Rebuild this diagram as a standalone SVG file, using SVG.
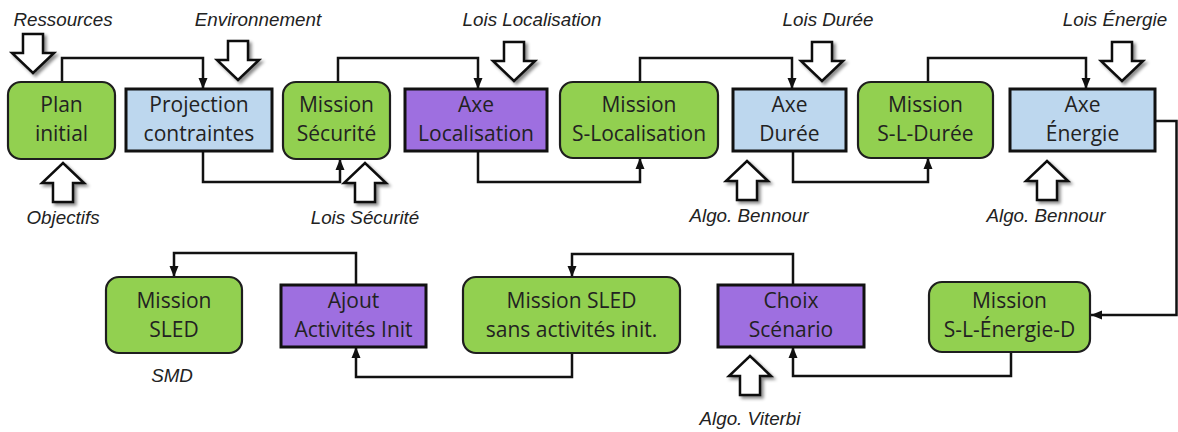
<svg xmlns="http://www.w3.org/2000/svg" xmlns:xlink="http://www.w3.org/1999/xlink" width="1178" height="432" viewBox="0 0 1178 432">
  <style>
    .g { fill: #92D050; stroke: #1e1e1e; stroke-width: 2.2; }
    .b { fill: #BDD7EE; stroke: #111; stroke-width: 3; }
    .p { fill: #9E6FE0; stroke: #111; stroke-width: 3; }
    .t { font-family: "Open Sans", "Noto Sans", sans-serif; font-size: 21px; fill: #222; text-anchor: middle; }
    .l { font-family: "Liberation Sans", Arial, sans-serif; font-style: italic; font-size: 18.8px; fill: #222; text-anchor: middle; }
    .c { fill: none; stroke: #111; stroke-width: 2.5; marker-end: url(#ah); }
    .ba { fill: #fff; stroke: #111; stroke-width: 2.5; stroke-linejoin: miter; filter: url(#sh); }
  </style>
  <defs>
    <marker id="ah" markerUnits="userSpaceOnUse" markerWidth="12" markerHeight="12" viewBox="0 0 12 12" refX="11" refY="6" orient="auto">
      <path d="M0 1.5 L11 6 L0 10.5 Z" fill="#111"/>
    </marker>
    <filter id="sh" x="-30%" y="-30%" width="170%" height="170%">
      <feDropShadow dx="2.5" dy="2.5" stdDeviation="1.8" flood-color="#000" flood-opacity="0.45"/>
    </filter>
    <path id="dn" d="M-10 -39 H10 V-20 H21 L0 0 L-21 -20 H-10 Z"/>
    <path id="up" d="M-10 39 H10 V20 H21 L0 0 L-21 20 H-10 Z"/>
  </defs>

  <g id="connectors">
    <path class="c" d="M62 82 V58 H203 V89"/>
    <path class="c" d="M203 151 V182 H340 V159"/>
    <path class="c" d="M338 82 V58 H478 V89"/>
    <path class="c" d="M478 151 V182 H640 V158"/>
    <path class="c" d="M640 82 V58 H792 V89"/>
    <path class="c" d="M793 151 V182 H928 V158"/>
    <path class="c" d="M928 82 V58 H1086 V89"/>
    <path class="c" d="M1155 121 H1176.5 V315 H1091"/>
    <path class="c" d="M1011 352 V376 H793 V347"/>
    <path class="c" d="M793 285 V254 H572 V277"/>
    <path class="c" d="M572 353 V377 H356 V347"/>
    <path class="c" d="M356 285 V253 H174 V277"/>
  </g>

  <g id="inputs">
    <use xlink:href="#dn" href="#dn" class="ba" x="33" y="73"/>
    <use xlink:href="#dn" href="#dn" class="ba" x="238" y="80"/>
    <use xlink:href="#dn" href="#dn" class="ba" x="514" y="81"/>
    <use xlink:href="#dn" href="#dn" class="ba" x="822" y="81"/>
    <use xlink:href="#dn" href="#dn" class="ba" x="1122" y="81"/>
    <use xlink:href="#up" href="#up" class="ba" x="63" y="163"/>
    <use xlink:href="#up" href="#up" class="ba" x="365" y="163"/>
    <use xlink:href="#up" href="#up" class="ba" x="747" y="161"/>
    <use xlink:href="#up" href="#up" class="ba" x="1047" y="161"/>
    <use xlink:href="#up" href="#up" class="ba" x="750" y="356"/>
  </g>

  <g id="labels">
    <text class="l" x="63" y="26">Ressources</text>
    <text class="l" x="258" y="26">Environnement</text>
    <text class="l" x="532" y="26">Lois Localisation</text>
    <text class="l" x="828" y="26">Lois Durée</text>
    <text class="l" x="1115" y="26">Lois Énergie</text>
    <text class="l" x="63" y="224">Objectifs</text>
    <text class="l" x="365" y="224">Lois Sécurité</text>
    <text class="l" x="749" y="222">Algo. Bennour</text>
    <text class="l" x="1046" y="222">Algo. Bennour</text>
    <text class="l" x="172" y="382">SMD</text>
    <text class="l" x="750" y="425">Algo. Viterbi</text>
  </g>

  <g id="plan-initial">
    <rect class="g" x="8" y="82" width="107" height="77" rx="13"/>
    <text class="t" x="61.5" y="112">Plan</text>
    <text class="t" x="61.5" y="141">initial</text>
  </g>
  <g id="projection-contraintes">
    <rect class="b" x="126" y="89" width="146" height="62"/>
    <text class="t" x="199" y="112">Projection</text>
    <text class="t" x="199" y="141">contraintes</text>
  </g>
  <g id="mission-securite">
    <rect class="g" x="283" y="82" width="107" height="77" rx="13"/>
    <text class="t" x="336.5" y="112">Mission</text>
    <text class="t" x="336.5" y="141">Sécurité</text>
  </g>
  <g id="axe-localisation">
    <rect class="p" x="405" y="89" width="142" height="62"/>
    <text class="t" x="476" y="112">Axe</text>
    <text class="t" x="476" y="141">Localisation</text>
  </g>
  <g id="mission-s-localisation">
    <rect class="g" x="560" y="82" width="158" height="76" rx="13"/>
    <text class="t" x="639" y="112">Mission</text>
    <text class="t" x="639" y="141">S-Localisation</text>
  </g>
  <g id="axe-duree">
    <rect class="b" x="733" y="89" width="113" height="62"/>
    <text class="t" x="789.5" y="112">Axe</text>
    <text class="t" x="789.5" y="141">Durée</text>
  </g>
  <g id="mission-s-l-duree">
    <rect class="g" x="858" y="82" width="135" height="76" rx="13"/>
    <text class="t" x="925.5" y="112">Mission</text>
    <text class="t" x="925.5" y="141">S-L-Durée</text>
  </g>
  <g id="axe-energie">
    <rect class="b" x="1010" y="89" width="145" height="62"/>
    <text class="t" x="1082.5" y="112">Axe</text>
    <text class="t" x="1082.5" y="141">Énergie</text>
  </g>

  <g id="mission-sled">
    <rect class="g" x="106" y="277" width="136" height="76" rx="13"/>
    <text class="t" x="174" y="308">Mission</text>
    <text class="t" x="174" y="337">SLED</text>
  </g>
  <g id="ajout-activites-init">
    <rect class="p" x="281" y="285" width="145" height="62"/>
    <text class="t" x="353.5" y="308">Ajout</text>
    <text class="t" x="353.5" y="337">Activités Init</text>
  </g>
  <g id="mission-sled-sans">
    <rect class="g" x="463" y="277" width="217" height="76" rx="13"/>
    <text class="t" x="571.5" y="308">Mission SLED</text>
    <text class="t" x="571.5" y="337">sans activités init.</text>
  </g>
  <g id="choix-scenario">
    <rect class="p" x="718" y="285" width="146" height="62"/>
    <text class="t" x="791" y="308">Choix</text>
    <text class="t" x="791" y="337">Scénario</text>
  </g>
  <g id="mission-s-l-energie-d">
    <rect class="g" x="929" y="282" width="161" height="70" rx="13"/>
    <text class="t" x="1009.5" y="308">Mission</text>
    <text class="t" x="1009.5" y="337">S-L-Énergie-D</text>
  </g>
</svg>
